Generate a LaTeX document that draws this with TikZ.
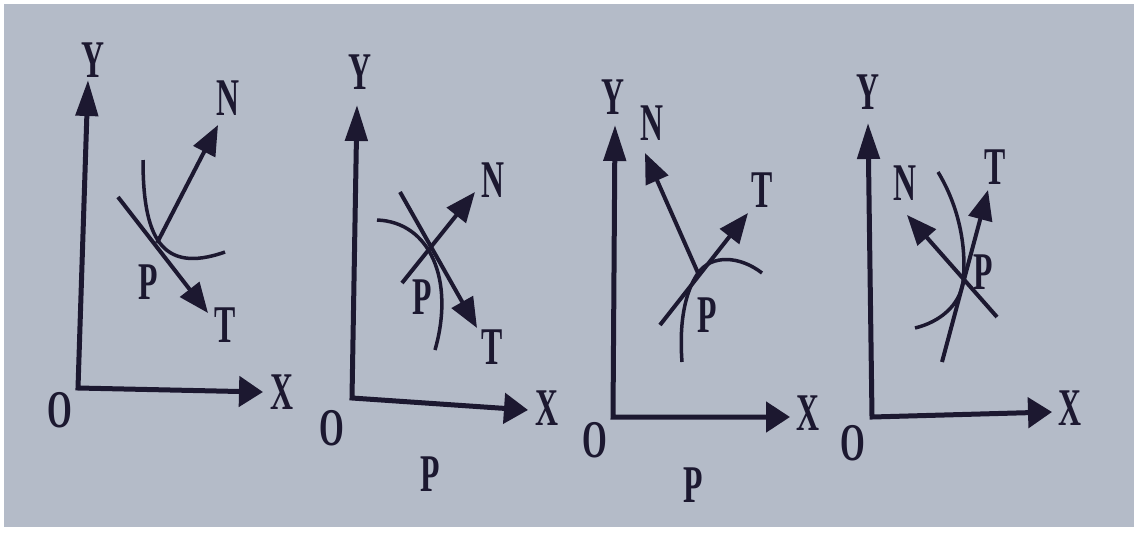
\documentclass[tikz,border=0pt]{standalone}
\usepackage{fontspec}
\newfontfamily\labfont{Liberation Serif}[FakeStretch=0.6]
\usetikzlibrary{arrows.meta}
\definecolor{paper}{RGB}{180,187,200}
\definecolor{ink}{RGB}{28,24,48}
\tikzset{
  axes/.style={line width=5pt, draw=ink, line join=miter,
    arrows={Triangle[length=36pt,width=22pt]-Triangle[length=24pt,width=30pt]}},
  vec/.style={line width=4pt, draw=ink, -{Triangle[length=30pt,width=24pt]}},
  curve/.style={line width=3.5pt, draw=ink},
  lab/.style={inner sep=0pt, text=ink, font=\labfont\bfseries\fontsize{53}{53}\selectfont},
}
\begin{document}
\begin{tikzpicture}[x=1pt,y=-1pt]
\useasboundingbox (0,0) rectangle (1139,533);
\fill[white] (0,0) rectangle (1139,533);
\fill[paper] (4,4) rectangle (1134,527);

% ---------- panel 1 ----------
\coordinate (o1) at (78,388);
\coordinate (y1) at (88,80);
\coordinate (x1) at (263,392);
\coordinate (p1) at (157,243);
\coordinate (n1) at (218,125);
\coordinate (ts1) at (118,197);
\coordinate (t1) at (208,313);
\coordinate (c1a) at (143,160);
\coordinate (c1b) at (225,252);
\draw[axes] (y1) -- (o1) -- (x1);
\draw[vec] (p1) -- (n1);
\draw[vec] (ts1) -- (t1);
\draw[curve] (c1a) .. controls (143,235) and (160,275) .. (c1b);
\node[lab] (Y1) at (93,60) {Y};
\node[lab] (X1) at (282,392) {X};
\node[lab] (O1) at (60,410) {O};
\node[lab] (N1) at (228,98) {N};
\node[lab] (T1) at (225,325) {T};
\node[lab] (P1) at (148,282) {P};

% ---------- panel 2 ----------
\coordinate (o2) at (352,398);
\coordinate (y2) at (357,105);
\coordinate (x2) at (528,410);
\coordinate (ns2) at (402,283);
\coordinate (n2) at (475,192);
\coordinate (ts2) at (400,192);
\coordinate (t2) at (477,328);
\coordinate (c2a) at (377,220);
\coordinate (c2b) at (435,350);
\draw[axes] (y2) -- (o2) -- (x2);
\draw[vec] (ns2) -- (n2);
\draw[vec] (ts2) -- (t2);
\draw[curve] (c2a) .. controls (430,222) and (455,280) .. (c2b);
\node[lab] (Y2) at (360,72) {Y};
\node[lab] (X2) at (547,408) {X};
\node[lab] (O2) at (332,428) {O};
\node[lab] (N2) at (493,180) {N};
\node[lab] (T2) at (492,347) {T};
\node[lab] (P2) at (422,297) {P};
\node[lab] (Q2) at (430,474) {P};

% ---------- panel 3 ----------
\coordinate (o3) at (613,417);
\coordinate (y3) at (615,125);
\coordinate (x3) at (790,417);
\coordinate (p3) at (698,273);
\coordinate (n3) at (645,153);
\coordinate (ts3) at (660,325);
\coordinate (t3) at (748,213);
\coordinate (c3a) at (682,362);
\coordinate (c3b) at (762,273);
\draw[axes] (y3) -- (o3) -- (x3);
\draw[vec] (p3) -- (n3);
\draw[vec] (ts3) -- (t3);
\draw[curve] (c3a) .. controls (679,322) and (685,292) .. (p3)
  .. controls (712,254) and (740,256) .. (c3b);
\node[lab] (Y3) at (613,97) {Y};
\node[lab] (X3) at (808,413) {X};
\node[lab] (O3) at (595,440) {O};
\node[lab] (N3) at (652,123) {N};
\node[lab] (T3) at (762,190) {T};
\node[lab] (P3) at (707,315) {P};
\node[lab] (Q3) at (693,485) {P};

% ---------- panel 4 ----------
\coordinate (o4) at (872,417);
\coordinate (y4) at (868,123);
\coordinate (x4) at (1052,412);
\coordinate (p4) at (963,282);
\coordinate (ns4) at (997,317);
\coordinate (n4) at (907,215);
\coordinate (ts4) at (942,362);
\coordinate (t4) at (988,190);
\coordinate (c4a) at (938,172);
\coordinate (c4b) at (915,328);
\draw[axes] (y4) -- (o4) -- (x4);
\draw[vec] (ns4) -- (n4);
\draw[vec] (ts4) -- (t4);
\draw[curve] (c4a) .. controls (958,205) and (967,245) .. (p4)
  .. controls (960,305) and (940,322) .. (c4b);
\node[lab] (Y4) at (868,92) {Y};
\node[lab] (X4) at (1070,408) {X};
\node[lab] (O4) at (853,443) {O};
\node[lab] (N4) at (905,183) {N};
\node[lab] (T4) at (995,167) {T};
\node[lab] (P4) at (983,272) {P};
\end{tikzpicture}
\end{document}
